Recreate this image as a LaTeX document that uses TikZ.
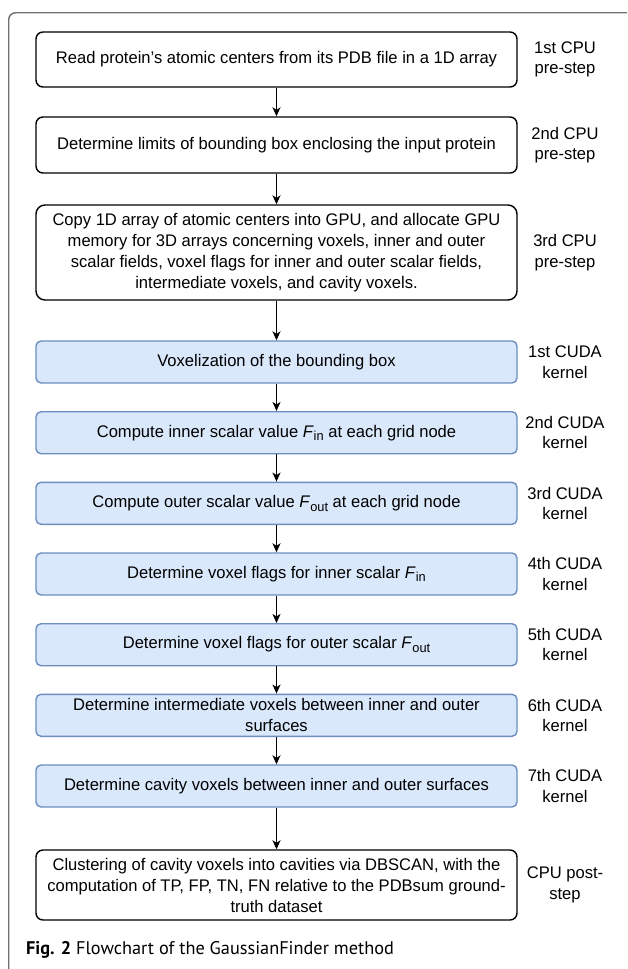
\documentclass[tikz,border=0pt]{standalone}
\usepackage{fontspec}
\setmainfont{Liberation Sans}[FakeStretch=0.985]
\newfontfamily\capfont{PT Sans}
\usetikzlibrary{arrows.meta}
\definecolor{bluefill}{HTML}{DAE8FC}
\definecolor{bluedraw}{HTML}{6C8EBF}
\definecolor{framegray}{HTML}{707070}
\newcommand{\Fsub}[1]{\textit{F}\raisebox{-3.5pt}{\fontsize{13}{13}\selectfont #1}}
\tikzset{
  cpubox/.style={draw=black, fill=white, line width=1.4pt, rounded corners=7pt,
    minimum width=481pt, align=center, inner sep=0pt,
    font=\fontsize{16.8}{21}\selectfont},
  cudabox/.style={draw=bluedraw, fill=bluefill, line width=1.4pt, rounded corners=5pt,
    minimum width=481pt, minimum height=42pt, align=center, inner sep=0pt,
    font=\fontsize{16.8}{21}\selectfont},
  steplabel/.style={align=center, font=\fontsize{16.8}{20.5}\selectfont, inner sep=0pt},
  flow/.style={-{Stealth[length=9pt,width=8pt,inset=2.5pt]}, line width=1.4pt, black}
}
\begin{document}
\begin{tikzpicture}[x=1pt,y=-1pt]
\useasboundingbox (0,0) rectangle (627,969);
\begin{scope}
\clip (0,0) rectangle (627,969);
\draw[framegray, line width=1.4pt, rounded corners=7pt] (8.7,12.7) rectangle (700,1100);
\end{scope}

\node[cpubox, minimum height=55pt] (b1) at (276.5,59.5) {Read protein's atomic centers from its PDB file in a 1D array};
\node[cpubox, minimum height=56pt] (b2) at (276.5,145) {Determine limits of bounding box enclosing the input protein};
\node[cpubox, minimum height=95pt, rounded corners=9pt] (b3) at (276.5,252.5) {Copy 1D array of atomic centers into GPU, and allocate GPU\\ memory for 3D arrays concerning voxels, inner and outer\\ scalar fields, voxel flags for inner and outer scalar fields,\\ intermediate voxels, and cavity voxels.};

\node[cudabox] (k1) at (276.5,362) {Voxelization of the bounding box};
\node[cudabox] (k2) at (276.5,432.7) {Compute inner scalar value \Fsub{in} at each grid node};
\node[cudabox] (k3) at (276.5,503.3) {Compute outer scalar value \Fsub{out} at each grid node};
\node[cudabox] (k4) at (276.5,574) {Determine voxel flags for inner scalar \Fsub{in}};
\node[cudabox] (k5) at (276.5,644.7) {Determine voxel flags for outer scalar \Fsub{out}};
\node[cudabox] (k6) at (276.5,715.3) {Determine intermediate voxels between inner and outer\\ surfaces};
\node[cudabox] (k7) at (276.5,786) {Determine cavity voxels between inner and outer surfaces};

\node[cpubox, minimum height=70pt] (b4) at (276.5,885) {Clustering of cavity voxels into cavities via DBSCAN, with the\\ computation of TP, FP, TN, FN relative to the PDBsum ground-\\ truth dataset};

\node[steplabel] (l1) at (565,59.5) {1st CPU\\ pre-step};
\node[steplabel] (l2) at (565,145) {2nd CPU\\ pre-step};
\node[steplabel] (l3) at (565,252.5) {3rd CPU\\ pre-step};
\node[steplabel] (l4) at (565,362) {1st CUDA\\ kernel};
\node[steplabel] (l5) at (565,432.7) {2nd CUDA\\ kernel};
\node[steplabel] (l6) at (565,503.3) {3rd CUDA\\ kernel};
\node[steplabel] (l7) at (565,574) {4th CUDA\\ kernel};
\node[steplabel] (l8) at (565,644.7) {5th CUDA\\ kernel};
\node[steplabel] (l9) at (565,715.3) {6th CUDA\\ kernel};
\node[steplabel] (l10) at (565,786) {7th CUDA\\ kernel};
\node[steplabel] (l11) at (565,885) {CPU post-\\ step};

\draw[flow] (b1) -- (b2);
\draw[flow] (b2) -- (b3);
\draw[flow] (b3) -- (k1);
\draw[flow] (k1) -- (k2);
\draw[flow] (k2) -- (k3);
\draw[flow] (k3) -- (k4);
\draw[flow] (k4) -- (k5);
\draw[flow] (k5) -- (k6);
\draw[flow] (k6) -- (k7);
\draw[flow] (k7) -- (b4);

\node[anchor=base west, inner sep=0pt, font=\capfont\fontsize{18.3}{20}\selectfont] (cap) at (26,954) {\textbf{Fig. 2} Flowchart of the GaussianFinder method};
\end{tikzpicture}
\end{document}
